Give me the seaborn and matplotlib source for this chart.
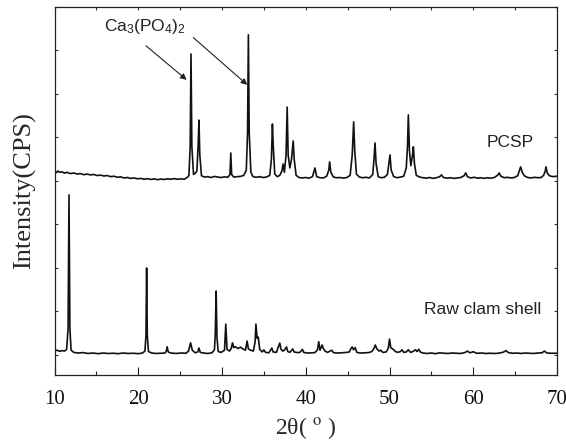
import matplotlib
matplotlib.use("Agg")
import matplotlib.pyplot as plt
import seaborn as sns
import pandas as pd

# Powder XRD patterns (2-theta in degrees, intensity in counts per second)
raw_two_theta = [
    10.0, 10.3, 10.6, 10.9, 11.2, 11.45, 11.62, 11.73, 11.84, 11.98,
    12.3, 12.8, 13.4, 14.0, 14.6, 15.2, 15.8, 16.4, 17.0, 17.6,
    18.2, 18.8, 19.4, 20.0, 20.5, 20.8, 20.92, 21.0, 21.08, 21.22,
    21.6, 22.2, 22.8, 23.2, 23.35, 23.45, 23.58, 23.9, 24.5, 25.1,
    25.7, 26.0, 26.25, 26.45, 26.8, 27.1, 27.25, 27.4, 27.8, 28.3,
    28.8, 29.1, 29.2, 29.3, 29.4, 29.55, 29.9, 30.3, 30.45, 30.6,
    30.9, 31.1, 31.25, 31.4, 31.6, 31.9, 32.2, 32.5, 32.8, 33.0,
    33.15, 33.4, 33.75, 33.95, 34.05, 34.2, 34.33, 34.5, 34.8, 35.0,
    35.2, 35.6, 35.95, 36.1, 36.5, 36.9, 37.05, 37.25, 37.45, 37.7,
    37.85, 38.1, 38.45, 38.6, 39.0, 39.3, 39.6, 39.75, 40.2, 40.7,
    41.1, 41.4, 41.55, 41.7, 41.95, 42.1, 42.3, 42.6, 42.9, 43.1,
    43.3, 43.8, 44.3, 44.9, 45.2, 45.4, 45.55, 45.7, 45.9, 46.1,
    46.5, 47.0, 47.5, 47.9, 48.15, 48.3, 48.5, 48.75, 48.95, 49.2,
    49.6, 49.85, 50.0, 50.15, 50.5, 50.7, 51.0, 51.3, 51.5, 51.7,
    52.0, 52.25, 52.5, 52.8, 53.1, 53.3, 53.5, 53.7, 54.0, 54.5,
    55.0, 55.5, 56.0, 56.5, 57.0, 57.5, 58.0, 58.5, 59.0, 59.3,
    59.6, 60.0, 60.4, 61.0, 61.5, 62.0, 62.5, 63.0, 63.6, 63.9,
    64.2, 64.7, 65.2, 65.7, 66.2, 66.7, 67.2, 67.7, 68.2, 68.5,
    68.8, 69.3, 70.0,
]
raw_intensity = [
    95, 110, 85, 100, 90, 130, 600, 3680, 600, 110,
    60, 45, 55, 35, 45, 30, 45, 35, 40, 30,
    45, 35, 40, 30, 45, 90, 450, 2000, 450, 80,
    45, 35, 40, 45, 90, 190, 70, 45, 35, 45,
    40, 90, 280, 110, 50, 70, 160, 60, 45, 35,
    50, 120, 500, 1470, 400, 80, 60, 110, 710, 130,
    90, 150, 280, 170, 190, 150, 180, 140, 110, 320,
    140, 110, 90, 300, 710, 380, 410, 130, 70, 115,
    60, 50, 160, 70, 60, 275, 130, 90, 110, 185,
    80, 60, 140, 70, 55, 60, 130, 60, 45, 50,
    55, 120, 305, 110, 230, 150, 90, 60, 90, 110,
    55, 45, 50, 60, 70, 150, 185, 120, 170, 60,
    45, 50, 55, 80, 150, 230, 140, 90, 110, 60,
    70, 150, 365, 170, 120, 80, 60, 80, 120, 60,
    70, 120, 60, 80, 120, 80, 130, 65, 45, 35,
    45, 30, 50, 40, 35, 45, 40, 35, 55, 90,
    50, 75, 40, 45, 35, 40, 35, 40, 65, 100,
    55, 40, 45, 35, 45, 40, 35, 45, 50, 90,
    45, 40, 40,
]

pcsp_two_theta = [
    10.0, 10.2, 10.4, 10.6, 10.9, 11.2, 11.5, 11.9, 12.3, 12.7,
    13.1, 13.5, 13.9, 14.3, 14.7, 15.1, 15.5, 15.9, 16.3, 16.7,
    17.1, 17.5, 17.9, 18.3, 18.7, 19.1, 19.5, 19.9, 20.3, 20.7,
    21.1, 21.5, 21.9, 22.3, 22.7, 23.1, 23.5, 23.9, 24.3, 24.7,
    25.1, 25.5, 25.9, 26.05, 26.2, 26.3, 26.4, 26.6, 26.8, 27.0,
    27.15, 27.25, 27.35, 27.55, 27.9, 28.3, 28.7, 29.1, 29.5, 29.9,
    30.3, 30.7, 30.95, 31.05, 31.15, 31.4, 31.8, 32.2, 32.6, 32.9,
    33.05, 33.15, 33.25, 33.45, 33.7, 34.1, 34.5, 34.9, 35.3, 35.7,
    35.9, 36.02, 36.12, 36.3, 36.6, 36.9, 37.15, 37.3, 37.45, 37.65,
    37.78, 37.9, 38.1, 38.3, 38.5, 38.62, 38.85, 39.2, 39.6, 40.0,
    40.4, 40.8, 41.1, 41.3, 41.7, 42.1, 42.5, 42.75, 42.85, 43.0,
    43.3, 43.7, 44.1, 44.5, 44.9, 45.3, 45.55, 45.72, 45.85, 46.05,
    46.4, 46.8, 47.2, 47.6, 48.0, 48.15, 48.27, 48.4, 48.65, 49.0,
    49.4, 49.75, 49.95, 50.06, 50.2, 50.5, 50.9, 51.3, 51.7, 52.0,
    52.15, 52.25, 52.38, 52.55, 52.75, 52.85, 52.98, 53.2, 53.6, 54.0,
    54.4, 54.8, 55.2, 55.6, 56.0, 56.2, 56.45, 56.9, 57.3, 57.7,
    58.1, 58.5, 58.9, 59.1, 59.3, 59.7, 60.1, 60.5, 60.9, 61.3,
    61.7, 62.1, 62.5, 62.9, 63.1, 63.3, 63.7, 64.1, 64.5, 64.9,
    65.3, 65.5, 65.66, 65.85, 66.1, 66.5, 66.9, 67.3, 67.7, 68.1,
    68.4, 68.6, 68.68, 68.85, 69.1, 69.5, 70.0,
]
pcsp_intensity = [
    320, 290, 330, 300, 310, 280, 300, 270, 285, 260,
    270, 245, 260, 240, 250, 225, 235, 215, 225, 200,
    210, 185, 195, 170, 180, 160, 170, 150, 160, 140,
    155, 135, 150, 130, 145, 135, 150, 140, 155, 140,
    150, 140, 190, 230, 900, 3020, 900, 250, 280, 330,
    900, 1500, 700, 220, 190, 200, 180, 205, 190, 180,
    195, 185, 250, 745, 250, 190, 200, 205, 230, 350,
    1200, 3460, 1200, 300, 200, 185, 200, 180, 190, 230,
    600, 1410, 900, 260, 200, 230, 330, 490, 300, 700,
    1800, 700, 400, 600, 1020, 600, 230, 180, 170, 180,
    165, 200, 400, 200, 175, 170, 210, 350, 540, 300,
    190, 175, 180, 165, 180, 230, 700, 1460, 800, 260,
    190, 175, 185, 170, 250, 600, 975, 500, 200, 175,
    185, 250, 550, 700, 350, 200, 175, 190, 210, 400,
    900, 1620, 800, 450, 700, 885, 500, 230, 190, 175,
    165, 180, 160, 175, 200, 240, 180, 165, 175, 160,
    170, 180, 220, 285, 200, 170, 185, 165, 175, 160,
    175, 165, 180, 230, 285, 210, 175, 185, 170, 180,
    220, 330, 425, 300, 220, 180, 170, 185, 175, 180,
    230, 330, 425, 280, 220, 200, 210,
]

# Vertical offset used to stack the PCSP pattern above the raw shell
pcsp_offset = 3900

pattern_labels = ["PCSP", "Raw clam shell"]
phase_label = "Ca$_3$(PO$_4$)$_2$"
x_ticks = [10, 20, 30, 40, 50, 60, 70]

raw_df = pd.DataFrame({"two_theta": raw_two_theta, "intensity": raw_intensity})
pcsp_df = pd.DataFrame({"two_theta": pcsp_two_theta,
                        "intensity": [v + pcsp_offset for v in pcsp_intensity]})

sns.set_style("ticks")
plt.rcParams["mathtext.fontset"] = "custom"
plt.rcParams["mathtext.rm"] = "Liberation Sans"
plt.rcParams["mathtext.it"] = "Liberation Sans:italic"
plt.rcParams["mathtext.bf"] = "Liberation Sans:bold"

fig = plt.figure(figsize=(5.66, 4.45), dpi=100)
ax = fig.add_axes([54.5 / 566, 1 - 375 / 445, (557 - 54.5) / 566, (375 - 7) / 445])

for df in (pcsp_df, raw_df):
    sns.lineplot(data=df, x="two_theta", y="intensity", ax=ax, color="#111111",
                 linewidth=1.2, estimator=None, sort=False)

ax.set_xlim(10, 70)
ax.set_ylim(-460, 8000)
ax.set_xticks(x_ticks)
ax.set_xticks(range(15, 70, 10), minor=True)
ax.set_yticks(range(0, 8001, 1000))
ax.set_yticklabels([])

serif = "Liberation Serif"
sans = "Liberation Sans"
for lbl in ax.get_xticklabels():
    lbl.set_fontfamily(serif)
    lbl.set_fontsize(15)

ax.tick_params(axis="x", which="major", direction="in", length=5.5, width=0.8,
               pad=11, colors="#222222", labelcolor="#111111")
ax.tick_params(axis="x", which="minor", direction="in", length=3, width=0.8,
               colors="#222222")
ax.tick_params(axis="y", which="major", direction="in", length=2, width=0.8,
               left=True, right=True, colors="#333333")

top = ax.secondary_xaxis("top")
top.set_xticks(range(10, 71, 5))
top.set_xticklabels([])
top.tick_params(direction="in", length=2, width=0.8, colors="#333333")
top.spines["top"].set_visible(False)

for side in ("left", "right", "top", "bottom"):
    ax.spines[side].set_visible(True)
    ax.spines[side].set_linewidth(0.9)
    ax.spines[side].set_color("#222222")

ax.set_xlabel("2θ( $^{\\rm o}$ )", fontfamily=serif, fontsize=17, labelpad=4,
              math_fontfamily="stix")
ax.set_ylabel("Intensity(CPS)", fontfamily=serif, fontsize=19, labelpad=10)

ax.text(61.6, 4876, pattern_labels[0], fontfamily=sans, fontsize=12.5,
        ha="left", va="center", color="#222222")
ax.text(54.1, 1035, pattern_labels[1], fontfamily=sans, fontsize=12.5,
        ha="left", va="center", color="#222222")
ax.text(15.9, 7560, phase_label, fontfamily=sans, fontsize=12.5,
        ha="left", va="center", color="#222222")

arrow_style = dict(arrowstyle="-|>", color="#222222", lw=0.8,
                   mutation_scale=9, shrinkA=0, shrinkB=0)
ax.annotate("", xy=(25.78, 6325), xytext=(20.93, 7107), arrowprops=arrow_style)
ax.annotate("", xy=(33.02, 6210), xytext=(26.57, 7298), arrowprops=arrow_style)

fig.savefig("out.png", dpi=100)
